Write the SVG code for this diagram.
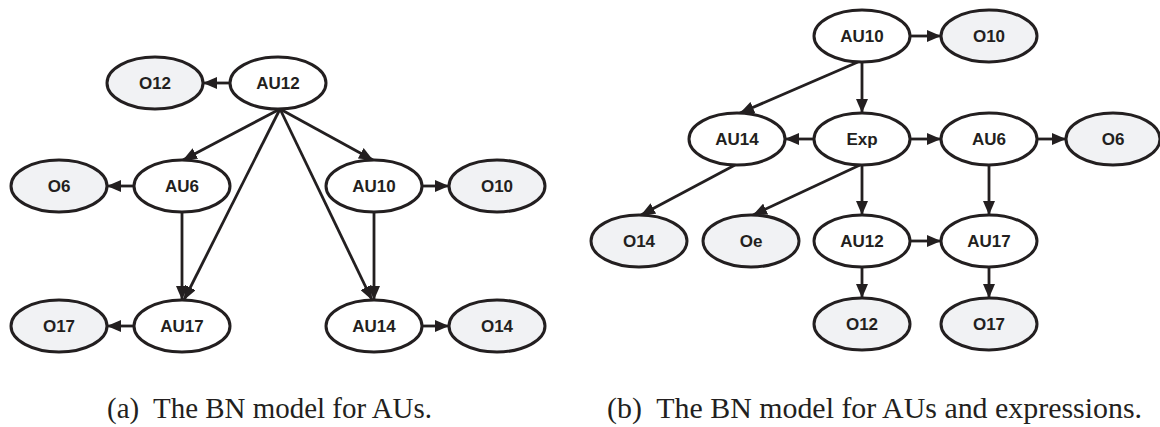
<svg xmlns="http://www.w3.org/2000/svg" width="1160" height="427" viewBox="0 0 1160 427">
<style>
.n{fill:#ffffff;stroke:#231f20;stroke-width:3}
.o{fill:#f1f2f4;stroke:#231f20;stroke-width:3}
.t{font-family:"Liberation Sans",Arial,sans-serif;font-weight:bold;font-size:17px;fill:#231f20;text-anchor:middle}
.e{stroke:#231f20;stroke-width:2.8;fill:none;marker-end:url(#ah)}
.c{font-family:"Liberation Serif","Times New Roman",serif;font-size:29px;fill:#231f20}
</style>
<defs>
<marker id="ah" markerUnits="userSpaceOnUse" markerWidth="14" markerHeight="12" refX="14" refY="6" orient="auto">
<path d="M0,0 L14,6 L0,12 z" fill="#231f20"/>
</marker>
</defs>
<rect width="1160" height="427" fill="#ffffff"/>
<g id="connectors">
<line class="e" x1="230" y1="83" x2="203" y2="83"/>
<line class="e" x1="280" y1="109" x2="183" y2="160"/>
<line class="e" x1="280" y1="109" x2="373" y2="160"/>
<line class="e" x1="280" y1="109" x2="184" y2="300"/>
<line class="e" x1="280" y1="109" x2="372" y2="300"/>
<line class="e" x1="134" y1="186" x2="107" y2="186"/>
<line class="e" x1="422" y1="186" x2="449" y2="186"/>
<line class="e" x1="182" y1="212" x2="182" y2="300"/>
<line class="e" x1="374" y1="212" x2="374" y2="300"/>
<line class="e" x1="134" y1="326" x2="107" y2="326"/>
<line class="e" x1="422" y1="326" x2="449" y2="326"/>
<line class="e" x1="910" y1="36" x2="941" y2="36"/>
<line class="e" x1="858" y1="62" x2="740" y2="113"/>
<line class="e" x1="862" y1="62" x2="862" y2="113"/>
<line class="e" x1="814" y1="139" x2="785" y2="139"/>
<line class="e" x1="910" y1="139" x2="941" y2="139"/>
<line class="e" x1="1037" y1="139" x2="1066" y2="139"/>
<line class="e" x1="735" y1="165" x2="641" y2="215"/>
<line class="e" x1="860" y1="165" x2="753" y2="215"/>
<line class="e" x1="862" y1="165" x2="862" y2="215"/>
<line class="e" x1="989" y1="165" x2="989" y2="215"/>
<line class="e" x1="910" y1="241" x2="941" y2="241"/>
<line class="e" x1="862" y1="267" x2="862" y2="298"/>
<line class="e" x1="989" y1="267" x2="989" y2="298"/>
</g>
<g id="a-O12"><ellipse class="o" cx="155" cy="83" rx="48" ry="26"/><text class="t" x="155" y="89">O12</text></g>
<g id="a-AU12"><ellipse class="n" cx="278" cy="83" rx="48" ry="26"/><text class="t" x="278" y="89">AU12</text></g>
<g id="a-O6"><ellipse class="o" cx="59" cy="186" rx="48" ry="26"/><text class="t" x="59" y="192">O6</text></g>
<g id="a-AU6"><ellipse class="n" cx="182" cy="186" rx="48" ry="26"/><text class="t" x="182" y="192">AU6</text></g>
<g id="a-AU10"><ellipse class="n" cx="374" cy="186" rx="48" ry="26"/><text class="t" x="374" y="192">AU10</text></g>
<g id="a-O10"><ellipse class="o" cx="497" cy="186" rx="48" ry="26"/><text class="t" x="497" y="192">O10</text></g>
<g id="a-O17"><ellipse class="o" cx="59" cy="326" rx="48" ry="26"/><text class="t" x="59" y="332">O17</text></g>
<g id="a-AU17"><ellipse class="n" cx="182" cy="326" rx="48" ry="26"/><text class="t" x="182" y="332">AU17</text></g>
<g id="a-AU14"><ellipse class="n" cx="374" cy="326" rx="48" ry="26"/><text class="t" x="374" y="332">AU14</text></g>
<g id="a-O14"><ellipse class="o" cx="497" cy="326" rx="48" ry="26"/><text class="t" x="497" y="332">O14</text></g>
<g id="b-AU10"><ellipse class="n" cx="862" cy="36" rx="48" ry="26"/><text class="t" x="862" y="42">AU10</text></g>
<g id="b-O10"><ellipse class="o" cx="989" cy="36" rx="48" ry="26"/><text class="t" x="989" y="42">O10</text></g>
<g id="b-AU14"><ellipse class="n" cx="737" cy="139" rx="48" ry="26"/><text class="t" x="737" y="145">AU14</text></g>
<g id="b-Exp"><ellipse class="n" cx="862" cy="139" rx="48" ry="26"/><text class="t" x="862" y="145">Exp</text></g>
<g id="b-AU6"><ellipse class="n" cx="989" cy="139" rx="48" ry="26"/><text class="t" x="989" y="145">AU6</text></g>
<g id="b-O6"><ellipse class="o" cx="1113" cy="139" rx="47" ry="26"/><text class="t" x="1113" y="145">O6</text></g>
<g id="b-O14"><ellipse class="o" cx="639" cy="241" rx="48" ry="26"/><text class="t" x="639" y="247">O14</text></g>
<g id="b-Oe"><ellipse class="o" cx="751" cy="241" rx="48" ry="26"/><text class="t" x="751" y="247">Oe</text></g>
<g id="b-AU12"><ellipse class="n" cx="862" cy="241" rx="48" ry="26"/><text class="t" x="862" y="247">AU12</text></g>
<g id="b-AU17"><ellipse class="n" cx="989" cy="241" rx="48" ry="26"/><text class="t" x="989" y="247">AU17</text></g>
<g id="b-O12"><ellipse class="o" cx="862" cy="324" rx="48" ry="26"/><text class="t" x="862" y="330">O12</text></g>
<g id="b-O17"><ellipse class="o" cx="989" cy="324" rx="48" ry="26"/><text class="t" x="989" y="330">O17</text></g>
<g id="captions">
<text class="c" x="107" y="418" textLength="325" lengthAdjust="spacingAndGlyphs" xml:space="preserve">(a)  The BN model for AUs.</text>
<text class="c" x="607" y="418" textLength="535" lengthAdjust="spacingAndGlyphs" xml:space="preserve">(b)  The BN model for AUs and expressions.</text>
</g>
</svg>
